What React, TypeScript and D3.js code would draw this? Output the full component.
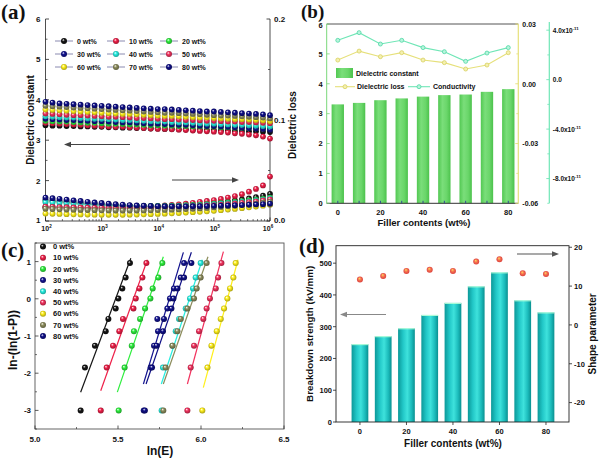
import React from "react";
import * as d3 from "d3";

const SANS = "'Liberation Sans', Arial, Helvetica, sans-serif";
const SERIF = "'Liberation Serif', 'Times New Roman', serif";

// ---------- shared ----------
const fillerLabels = ["0 wt%", "10 wt%", "20 wt%", "30 wt%", "40 wt%", "50 wt%", "60 wt%", "70 wt%", "80 wt%"];
const seriesColors = ["#151515", "#ee1f48", "#2cee3c", "#13138f", "#25eee0", "#f2325e", "#fff01a", "#8c8c5c", "#0e0e86"];
const fillers = [0, 10, 20, 30, 40, 50, 60, 70, 80];

// ---------- panel (a): frequency dependence ----------
const logFreq = [2, 2.125, 2.25, 2.375, 2.5, 2.625, 2.75, 2.875, 3, 3.125, 3.25, 3.375, 3.5, 3.625, 3.75, 3.875, 4,
  4.125, 4.25, 4.375, 4.5, 4.625, 4.75, 4.875, 5, 5.125, 5.25, 5.375, 5.5, 5.625, 5.75, 5.875, 6];

const eps0 = [3.37, 3.36, 3.36, 3.35, 3.35, 3.34, 3.34, 3.33, 3.33, 3.32, 3.32, 3.31, 3.31, 3.30, 3.30, 3.29, 3.29,
  3.28, 3.28, 3.27, 3.27, 3.26, 3.26, 3.25, 3.25, 3.24, 3.24, 3.23, 3.23, 3.22, 3.22, 3.21, 3.20];
const eps10 = [3.43, 3.42, 3.41, 3.40, 3.39, 3.38, 3.37, 3.36, 3.35, 3.34, 3.33, 3.33, 3.32, 3.31, 3.30, 3.29, 3.28,
  3.28, 3.27, 3.26, 3.25, 3.24, 3.23, 3.22, 3.21, 3.20, 3.19, 3.17, 3.16, 3.14, 3.12, 3.09, 3.04];
const eps20 = [3.48, 3.47, 3.46, 3.46, 3.45, 3.44, 3.43, 3.43, 3.42, 3.41, 3.41, 3.40, 3.39, 3.39, 3.38, 3.37, 3.37,
  3.36, 3.36, 3.35, 3.35, 3.34, 3.34, 3.33, 3.33, 3.32, 3.32, 3.31, 3.31, 3.31, 3.30, 3.30, 3.29];
const eps30 = [3.53, 3.52, 3.51, 3.50, 3.50, 3.49, 3.48, 3.47, 3.47, 3.46, 3.45, 3.44, 3.44, 3.43, 3.42, 3.41, 3.41,
  3.40, 3.39, 3.38, 3.38, 3.37, 3.36, 3.35, 3.35, 3.34, 3.33, 3.32, 3.31, 3.30, 3.29, 3.28, 3.26];
const eps40 = [3.59, 3.58, 3.57, 3.56, 3.56, 3.55, 3.54, 3.53, 3.53, 3.52, 3.51, 3.50, 3.50, 3.49, 3.48, 3.47, 3.47,
  3.46, 3.45, 3.44, 3.44, 3.43, 3.42, 3.41, 3.41, 3.40, 3.39, 3.38, 3.38, 3.37, 3.36, 3.35, 3.34];
const eps50 = [3.66, 3.65, 3.64, 3.63, 3.62, 3.62, 3.61, 3.60, 3.59, 3.58, 3.58, 3.57, 3.56, 3.55, 3.55, 3.54, 3.53,
  3.52, 3.52, 3.51, 3.50, 3.50, 3.49, 3.48, 3.48, 3.47, 3.46, 3.46, 3.45, 3.45, 3.44, 3.43, 3.42];
const eps60 = [3.76, 3.75, 3.74, 3.73, 3.72, 3.71, 3.70, 3.69, 3.68, 3.67, 3.66, 3.65, 3.65, 3.64, 3.63, 3.62, 3.61,
  3.60, 3.60, 3.59, 3.58, 3.57, 3.56, 3.56, 3.55, 3.54, 3.53, 3.52, 3.52, 3.51, 3.50, 3.49, 3.47];
const eps70 = [3.85, 3.84, 3.83, 3.82, 3.81, 3.80, 3.79, 3.78, 3.77, 3.76, 3.75, 3.74, 3.73, 3.72, 3.71, 3.70, 3.69,
  3.68, 3.68, 3.67, 3.66, 3.65, 3.64, 3.63, 3.62, 3.61, 3.61, 3.60, 3.59, 3.58, 3.57, 3.56, 3.54];
const eps80 = [3.95, 3.93, 3.91, 3.90, 3.89, 3.88, 3.87, 3.86, 3.85, 3.84, 3.83, 3.82, 3.81, 3.80, 3.79, 3.78, 3.77,
  3.77, 3.76, 3.75, 3.74, 3.73, 3.72, 3.71, 3.71, 3.70, 3.69, 3.68, 3.67, 3.66, 3.65, 3.64, 3.62];

const tan0 = [0.0134, 0.0132, 0.0130, 0.0128, 0.0126, 0.0125, 0.0124, 0.0123, 0.0122, 0.0122, 0.0122, 0.0122, 0.0123,
  0.0124, 0.0125, 0.0127, 0.0129, 0.0132, 0.0135, 0.0139, 0.0143, 0.0148, 0.0160, 0.0168, 0.0176, 0.0185, 0.0194,
  0.0203, 0.0213, 0.0224, 0.0236, 0.0250, 0.0268];
const tan10 = [0.0142, 0.0141, 0.0140, 0.0139, 0.0138, 0.0138, 0.0137, 0.0137, 0.0137, 0.0137, 0.0138, 0.0139, 0.0140,
  0.0142, 0.0144, 0.0147, 0.0150, 0.0154, 0.0159, 0.0165, 0.0172, 0.0180, 0.0190, 0.0198, 0.0207, 0.0218, 0.0232,
  0.0247, 0.0265, 0.0290, 0.0318, 0.0352, 0.0440];
const tan20 = [0.0200, 0.0195, 0.0190, 0.0185, 0.0180, 0.0175, 0.0170, 0.0166, 0.0162, 0.0159, 0.0156, 0.0153, 0.0151,
  0.0150, 0.0149, 0.0149, 0.0149, 0.0150, 0.0151, 0.0153, 0.0156, 0.0159, 0.0163, 0.0167, 0.0172, 0.0177, 0.0183,
  0.0189, 0.0196, 0.0203, 0.0211, 0.0220, 0.0232];
const tan30 = [0.0212, 0.0206, 0.0200, 0.0194, 0.0188, 0.0182, 0.0176, 0.0171, 0.0166, 0.0162, 0.0158, 0.0154, 0.0151,
  0.0148, 0.0146, 0.0144, 0.0143, 0.0142, 0.0142, 0.0142, 0.0142, 0.0143, 0.0144, 0.0145, 0.0147, 0.0149, 0.0151,
  0.0153, 0.0155, 0.0157, 0.0160, 0.0163, 0.0166];
const tan40 = [0.0186, 0.0182, 0.0178, 0.0174, 0.0170, 0.0166, 0.0163, 0.0160, 0.0157, 0.0155, 0.0153, 0.0151, 0.0149,
  0.0148, 0.0147, 0.0146, 0.0146, 0.0146, 0.0147, 0.0149, 0.0151, 0.0154, 0.0157, 0.0161, 0.0166, 0.0171, 0.0176,
  0.0182, 0.0188, 0.0195, 0.0203, 0.0212, 0.0224];
const tan50 = [0.0142, 0.0140, 0.0138, 0.0136, 0.0135, 0.0134, 0.0133, 0.0132, 0.0132, 0.0131, 0.0131, 0.0131, 0.0131,
  0.0132, 0.0133, 0.0134, 0.0135, 0.0137, 0.0139, 0.0141, 0.0144, 0.0147, 0.0150, 0.0154, 0.0158, 0.0163, 0.0168,
  0.0174, 0.0180, 0.0187, 0.0195, 0.0204, 0.0215];
const tan60 = [0.0074, 0.0072, 0.0070, 0.0068, 0.0066, 0.0065, 0.0064, 0.0063, 0.0062, 0.0062, 0.0062, 0.0062, 0.0063,
  0.0064, 0.0066, 0.0068, 0.0070, 0.0073, 0.0076, 0.0079, 0.0083, 0.0087, 0.0091, 0.0096, 0.0101, 0.0107, 0.0113,
  0.0120, 0.0127, 0.0135, 0.0143, 0.0152, 0.0162];
const tan70 = [0.0122, 0.0119, 0.0116, 0.0114, 0.0112, 0.0110, 0.0108, 0.0107, 0.0106, 0.0105, 0.0104, 0.0104, 0.0104,
  0.0104, 0.0105, 0.0106, 0.0108, 0.0110, 0.0112, 0.0115, 0.0118, 0.0121, 0.0125, 0.0129, 0.0134, 0.0139, 0.0145,
  0.0151, 0.0158, 0.0165, 0.0173, 0.0182, 0.0192];
const tan80 = [0.0232, 0.0226, 0.0220, 0.0212, 0.0205, 0.0198, 0.0190, 0.0184, 0.0178, 0.0172, 0.0167, 0.0162, 0.0158,
  0.0154, 0.0151, 0.0149, 0.0147, 0.0146, 0.0145, 0.0145, 0.0145, 0.0146, 0.0147, 0.0148, 0.0150, 0.0152, 0.0154,
  0.0156, 0.0158, 0.0161, 0.0164, 0.0167, 0.0171];

const epsSeries = [eps0, eps10, eps20, eps30, eps40, eps50, eps60, eps70, eps80];
const tanSeries = [tan0, tan10, tan20, tan30, tan40, tan50, tan60, tan70, tan80];
const aLeftTicks = [1, 2, 3, 4, 5, 6];
const aRightTicks = [0, 0.1, 0.2];
const aFreqTicks = [2, 3, 4, 5, 6];

// ---------- panel (b) ----------
const dielectricConstant = [3.31, 3.36, 3.45, 3.51, 3.57, 3.62, 3.64, 3.73, 3.82];
const dielectricLoss = [0.0119, 0.0164, 0.0136, 0.0156, 0.0119, 0.0106, 0.0074, 0.0094, 0.0156];
const conductivity = [3.18e-11, 3.8e-11, 2.88e-11, 3.18e-11, 2.59e-11, 2.26e-11, 1.48e-11, 2.15e-11, 2.59e-11];
const bLeftTicks = [0, 1, 2, 3, 4, 5, 6];
const bLossTicks = [0.03, 0.0, -0.03, -0.06];
const bLossTickLabels = ["0.03", "0.00", "-0.03", "-0.06"];
const bCondTicks = [4e-11, 0, -4e-11, -8e-11];
const bCondMant = ["4.0x10", "0.0", "-4.0x10", "-8.0x10"];
const bXTicks = [0, 20, 40, 60, 80];

// ---------- panel (c): Weibull ----------
const weibullY = [-3.0, -1.85, -1.26, -0.87, -0.54, -0.26, 0.01, 0.28, 0.57, 0.96];
const lnE0 = [5.275, 5.301, 5.361, 5.426, 5.442, 5.486, 5.502, 5.526, 5.546, 5.572];
const lnE10 = [5.396, 5.432, 5.470, 5.508, 5.530, 5.593, 5.607, 5.629, 5.647, 5.671];
const lnE20 = [5.504, 5.540, 5.583, 5.596, 5.633, 5.663, 5.695, 5.709, 5.743, 5.767];
const lnE30 = [5.655, 5.697, 5.717, 5.741, 5.737, 5.797, 5.813, 5.837, 5.878, 5.898];
const lnE40 = [5.763, 5.771, 5.828, 5.848, 5.868, 5.908, 5.934, 5.952, 5.968, 5.998];
const lnE50 = [5.918, 5.938, 5.958, 5.988, 6.014, 6.034, 6.054, 6.089, 6.103, 6.123];
const lnE60 = [6.008, 6.039, 6.063, 6.095, 6.119, 6.139, 6.159, 6.175, 6.195, 6.209];
const lnE70 = [5.773, 5.787, 5.828, 5.858, 5.878, 5.918, 5.958, 5.974, 5.998, 6.034];
const lnE80 = [5.662, 5.705, 5.733, 5.771, 5.777, 5.822, 5.834, 5.858, 5.898, 5.942];
const lnESeries = [lnE0, lnE10, lnE20, lnE30, lnE40, lnE50, lnE60, lnE70, lnE80];
// fitted lines: endpoints (lnE, y)
const fitLowE = [5.275, 5.396, 5.496, 5.653, 5.761, 5.918, 6.014, 5.773, 5.669];
const fitLowY = [-2.51, -2.47, -2.51, -2.29, -2.29, -2.29, -2.39, -2.29, -2.29];
const fitHighE = [5.577, 5.677, 5.773, 5.894, 6.008, 6.135, 6.223, 6.042, 5.942];
const fitHighY = [1.09, 1.05, 1.13, 1.25, 1.05, 1.27, 1.05, 1.13, 1.25];
const cXTicks = [5.0, 5.5, 6.0, 6.5];
const cYTicks = [-3, -2, -1, 0, 1];

// ---------- panel (d) ----------
const breakdownStrength = [245, 270, 295, 337, 375, 427, 471, 383, 345];
const shapeParameter = [11.7, 12.6, 13.9, 14.2, 13.9, 16.3, 16.9, 13.3, 13.1];
const dLeftTicks = [0, 100, 200, 300, 400, 500];
const dRightTicks = [-20, -10, 0, 10, 20];
const dXTicks = [0, 20, 40, 60, 80];

const tickFont = { fontFamily: SANS, fontWeight: 700 as const, fill: "#111" };

function Arrow({ x1, x2, y, color }: { x1: number; x2: number; y: number; color: string }) {
  const dir = x2 > x1 ? 1 : -1;
  const hl = 7, hw = 2.8;
  return (
    <g>
      <line x1={x1} y1={y} x2={x2 - dir * hl} y2={y} stroke={color} strokeWidth={1.2} />
      <path d={`M${x2},${y} L${x2 - dir * hl},${y - hw} L${x2 - dir * hl},${y + hw} Z`} fill={color} />
    </g>
  );
}

function Ball({ x, y, i, r = 2.9 }: { x: number; y: number; i: number; r?: number }) {
  return <circle cx={x} cy={y} r={r} fill={`url(#ball${i})`} />;
}

function PanelA() {
  const L = 45.5, R = 270, T = 19, B = 221;
  const x = d3.scaleLog().domain([1e2, 1e6]).range([L, R]);
  const yL = d3.scaleLinear().domain([1, 6]).range([B, T]);
  const yR = d3.scaleLinear().domain([0, 0.2]).range([B, T]);
  const minorX: number[] = [];
  for (let e = 2; e < 6; e++) for (let m = 2; m < 10; m++) minorX.push(m * Math.pow(10, e));
  const legendCols = [55, 107, 160];
  const legendRows = [41, 54, 67];
  return (
    <g>
      <line x1={L} y1={T} x2={L} y2={B} stroke="#222" strokeWidth={0.8} />
      <line x1={R} y1={T} x2={R} y2={B} stroke="#222" strokeWidth={0.8} />
      <line x1={L} y1={B} x2={R} y2={B} stroke="#222" strokeWidth={0.8} />
      {aLeftTicks.map((t) => (
        <g key={"al" + t}>
          <line x1={L} x2={L + 3.5} y1={yL(t)} y2={yL(t)} stroke="#222" strokeWidth={0.8} />
          <text x={L - 5} y={yL(t) + (t === 1 ? 1.5 : 3)} textAnchor="end" fontSize={8} {...tickFont}>{t}</text>
        </g>
      ))}
      {aLeftTicks.slice(0, -1).map((t) => (
        <line key={"alm" + t} x1={L} x2={L + 2} y1={yL(t + 0.5)} y2={yL(t + 0.5)} stroke="#222" strokeWidth={0.7} />
      ))}
      {aRightTicks.map((t) => (
        <g key={"ar" + t}>
          <line x1={R} x2={R - 3.5} y1={yR(t)} y2={yR(t)} stroke="#222" strokeWidth={0.8} />
          <text x={R + 4} y={yR(t) + (t === 0 ? 1.5 : 3)} fontSize={8} {...tickFont}>{t.toFixed(1)}</text>
        </g>
      ))}
      {[0.05, 0.15].map((t) => (
        <line key={"arm" + t} x1={R} x2={R - 2} y1={yR(t)} y2={yR(t)} stroke="#222" strokeWidth={0.7} />
      ))}
      {aFreqTicks.map((e) => (
        <g key={"af" + e}>
          <line x1={x(Math.pow(10, e))} x2={x(Math.pow(10, e))} y1={B} y2={B - 3.5} stroke="#222" strokeWidth={0.8} />
          <text x={x(Math.pow(10, e)) + (e === 6 ? -2 : 1)} y={231} textAnchor="middle" fontSize={7} {...tickFont}>
            10<tspan fontSize={4.5} dy={-3}>{e}</tspan>
          </text>
        </g>
      ))}
      {minorX.map((v) => (
        <line key={"afm" + v} x1={x(v)} x2={x(v)} y1={B} y2={B - 2} stroke="#222" strokeWidth={0.6} />
      ))}
      {epsSeries.map((s, i) => (
        <g key={"eps" + i}>
          {s.map((v, j) => <Ball key={j} x={x(Math.pow(10, logFreq[j]))} y={yL(v)} i={i} />)}
        </g>
      ))}
      {tanSeries.map((s, i) => (
        <g key={"tan" + i}>
          {s.map((v, j) => <Ball key={j} x={x(Math.pow(10, logFreq[j]))} y={yR(v)} i={i} />)}
        </g>
      ))}
      {fillerLabels.map((lab, i) => {
        const cx = legendCols[i % 3], cy = legendRows[Math.floor(i / 3)];
        return (
          <g key={"lg" + i}>
            <line x1={cx} x2={cx + 18} y1={cy} y2={cy} stroke="#8a8ab0" strokeWidth={1} />
            <Ball x={cx + 9} y={cy} i={i} r={3} />
            <text x={cx + 22} y={cy + 2.6} fontSize={7} {...tickFont}>{lab}</text>
          </g>
        );
      })}
      <Arrow x1={130} x2={64} y={144.5} color="#444" />
      <Arrow x1={172} x2={239} y={180} color="#444" />
      <text transform={`translate(34,${(T + B) / 2}) rotate(-90)`} textAnchor="middle" fontSize={10} {...tickFont}>Dielectric constant</text>
      <text transform={`translate(296,${(T + B) / 2 + 5}) rotate(-90)`} textAnchor="middle" fontSize={10} {...tickFont}>Dielectric loss</text>
      <text x={1} y={19} fontFamily={SERIF} fontWeight={700} fontSize={21} fill="#111">(a)</text>
    </g>
  );
}

function PanelB() {
  const L = 326.7, R = 518.3, T = 24, B = 203.3, CX = 549.3;
  const x = d3.scaleLinear().domain([-5.2, 84.7]).range([L, R]);
  const y = d3.scaleLinear().domain([0, 6]).range([B, T]);
  const yLoss = d3.scaleLinear().domain([-0.06, 0.03]).range([B, T]);
  const yCond = d3.scaleLinear().domain([-1e-10, 4.5e-11]).range([B, T]);
  const bw = x(5.8) - x(0);
  const lossColor = "#e6e07a", condColor = "#6fe6b6";
  const lossLine = d3.line<number>().x((_, i) => x(fillers[i])).y((v) => yLoss(v));
  const condLine = d3.line<number>().x((_, i) => x(fillers[i])).y((v) => yCond(v));
  return (
    <g>
      {dielectricConstant.map((v, i) => (
        <rect key={"bb" + i} x={x(fillers[i]) - bw / 2} y={y(v)} width={bw} height={B - y(v)} fill="url(#greenBar)" />
      ))}
      <line x1={L} y1={T} x2={R} y2={T} stroke="#555" strokeWidth={1} />
      <line x1={L} y1={T} x2={L} y2={B} stroke="#7ad87a" strokeWidth={1} />
      <line x1={L} y1={B} x2={R} y2={B} stroke="#333" strokeWidth={1} />
      <line x1={R} y1={T} x2={R} y2={B} stroke={lossColor} strokeWidth={1.2} />
      <line x1={CX} y1={T - 2} x2={CX} y2={B} stroke={condColor} strokeWidth={1.2} />
      {bLeftTicks.map((t) => (
        <g key={"bl" + t}>
          <line x1={L} x2={L + 3} y1={y(t)} y2={y(t)} stroke="#7ad87a" strokeWidth={0.8} />
          <text x={L - 4} y={y(t) + (t === 6 ? 3.8 : 2.8)} textAnchor="end" fontSize={7.5} {...tickFont}>{t}</text>
        </g>
      ))}
      {bLossTicks.map((t, k) => (
        <g key={"blo" + k}>
          <line x1={R} x2={R - 3} y1={yLoss(t)} y2={yLoss(t)} stroke={lossColor} strokeWidth={0.9} />
          <text x={R + 4} y={yLoss(t) + 2.8} fontSize={7} {...tickFont}>{bLossTickLabels[k]}</text>
        </g>
      ))}
      {[0.015, -0.015, -0.045].map((t) => (
        <line key={"blm" + t} x1={R} x2={R - 2} y1={yLoss(t)} y2={yLoss(t)} stroke={lossColor} strokeWidth={0.8} />
      ))}
      {bCondTicks.map((t, k) => (
        <g key={"bc" + k}>
          <line x1={CX} x2={CX - 3} y1={yCond(t)} y2={yCond(t)} stroke={condColor} strokeWidth={0.9} />
          <text x={CX + 3.5} y={yCond(t) + 2.8} fontSize={6.5} {...tickFont}>
            {bCondMant[k]}
            {t !== 0 ? <tspan fontSize={4.3} dy={-3}>-11</tspan> : null}
          </text>
        </g>
      ))}
      {[2e-11, -2e-11, -6e-11, -1e-10].map((t) => (
        <line key={"bcm" + t} x1={CX} x2={CX - 2} y1={yCond(t)} y2={yCond(t)} stroke={condColor} strokeWidth={0.8} />
      ))}
      {fillers.map((f) => (
        <line key={"bxt" + f} x1={x(f)} x2={x(f)} y1={B} y2={B - 2.5} stroke="#2a3a9a" strokeWidth={0.9} />
      ))}
      {bXTicks.map((t) => (
        <text key={"bx" + t} x={x(t)} y={215} textAnchor="middle" fontSize={7.5} {...tickFont}>{t}</text>
      ))}
      <path d={lossLine(dielectricLoss) || ""} fill="none" stroke={lossColor} strokeWidth={1.1} />
      <path d={condLine(conductivity) || ""} fill="none" stroke={condColor} strokeWidth={1.1} />
      {dielectricLoss.map((v, i) => (
        <circle key={"lp" + i} cx={x(fillers[i])} cy={yLoss(v)} r={2} fill="#f4f0b0" stroke="#d8d060" strokeWidth={0.8} />
      ))}
      {conductivity.map((v, i) => (
        <circle key={"cp" + i} cx={x(fillers[i])} cy={yCond(v)} r={2} fill="#b8f4dc" stroke="#4ed8a4" strokeWidth={0.8} />
      ))}
      {/* legend */}
      <rect x={336} y={68} width={17} height={10} fill="url(#greenBar)" />
      <text x={356} y={75.8} fontSize={7} {...tickFont}>Dielectric constant</text>
      <line x1={335} x2={355} y1={86.7} y2={86.7} stroke={lossColor} strokeWidth={1.1} />
      <circle cx={345} cy={86.7} r={2} fill="#f4f0b0" stroke="#d8d060" strokeWidth={0.8} />
      <text x={357} y={89.3} fontSize={7} {...tickFont}>Dielectric loss</text>
      <line x1={408} x2={430} y1={86.7} y2={86.7} stroke={condColor} strokeWidth={1.1} />
      <circle cx={419} cy={86.7} r={2} fill="#b8f4dc" stroke="#4ed8a4" strokeWidth={0.8} />
      <text x={433} y={89.3} fontSize={7} {...tickFont}>Conductivity</text>
      <text x={424} y={226} textAnchor="middle" fontSize={9.5} {...tickFont}>Filler contents (wt%)</text>
      <text x={301} y={17.5} fontFamily={SERIF} fontWeight={700} fontSize={19} fill="#111">(b)</text>
    </g>
  );
}

function PanelC() {
  const L = 35, R = 284, T = 243, B = 429;
  const x = d3.scaleLinear().domain([5.0, 6.5]).range([L, R]);
  const y = d3.scaleLinear().domain([-3.5, 1.5]).range([B, T]);
  const minorX = [5.25, 5.75, 6.25];
  const minorY = [-3.5, -2.5, -1.5, -0.5, 0.5, 1.5];
  return (
    <g>
      <rect x={L} y={T} width={R - L} height={B - T} fill="none" stroke="#555" strokeWidth={0.9} />
      {cXTicks.map((t) => (
        <g key={"cx" + t}>
          <line x1={x(t)} x2={x(t)} y1={B} y2={B - 3.5} stroke="#333" strokeWidth={0.8} />
          <text x={x(t)} y={441.5} textAnchor="middle" fontSize={8} {...tickFont}>{t.toFixed(1)}</text>
        </g>
      ))}
      {minorX.map((t) => (
        <line key={"cxm" + t} x1={x(t)} x2={x(t)} y1={B} y2={B - 2} stroke="#333" strokeWidth={0.7} />
      ))}
      {cYTicks.map((t) => (
        <g key={"cy" + t}>
          <line x1={L} x2={L + 3.5} y1={y(t)} y2={y(t)} stroke="#333" strokeWidth={0.8} />
          <text x={L - 4} y={y(t) + 3} textAnchor="end" fontSize={8} {...tickFont}>{t}</text>
        </g>
      ))}
      {minorY.map((t) => (
        <line key={"cym" + t} x1={L} x2={L + 2} y1={y(t)} y2={y(t)} stroke="#333" strokeWidth={0.7} />
      ))}
      {fitLowE.map((_, i) => (
        <line key={"fit" + i} x1={x(fitLowE[i])} y1={y(fitLowY[i])} x2={x(fitHighE[i])} y2={y(fitHighY[i])}
          stroke={seriesColors[i]} strokeWidth={1.2} />
      ))}
      {lnESeries.map((s, i) => (
        <g key={"ws" + i}>
          {s.map((v, j) => <Ball key={j} x={x(v)} y={y(weibullY[j])} i={i} r={3} />)}
        </g>
      ))}
      {fillerLabels.map((lab, i) => (
        <g key={"cl" + i}>
          <Ball x={43} y={246.5 + i * 11.2} i={i} r={3} />
          <text x={53} y={246.5 + i * 11.2 + 2.6} fontSize={7.5} {...tickFont}>{lab}</text>
        </g>
      ))}
      <text x={160} y={455} textAnchor="middle" fontSize={12} {...tickFont}>ln(E)</text>
      <text transform={`translate(17,340) rotate(-90)`} textAnchor="middle" fontSize={12} {...tickFont}>ln-(ln(1-P))</text>
      <text x={1} y={257} fontFamily={SERIF} fontWeight={700} fontSize={21} fill="#111">(c)</text>
    </g>
  );
}

function PanelD() {
  const L = 336, R = 569, T = 245.7, B = 422;
  const x = d3.scaleLinear().domain([-10.3, 89.9]).range([L, R]);
  const y = d3.scaleLinear().domain([0, 555]).range([B, T]);
  const yR = d3.scaleLinear().domain([-25, 20.4]).range([B, T]);
  const bw = x(7.2) - x(0);
  return (
    <g>
      {breakdownStrength.map((v, i) => (
        <g key={"db" + i}>
          <rect x={x(fillers[i]) - bw / 2} y={y(v)} width={bw} height={B - y(v)} fill="url(#tealBar)" />
          <line x1={x(fillers[i]) - bw / 2} x2={x(fillers[i]) + bw / 2} y1={y(v) + 0.5} y2={y(v) + 0.5} stroke="#b8ffd8" strokeWidth={1} />
        </g>
      ))}
      <rect x={L} y={T} width={R - L} height={B - T} fill="none" stroke="#222" strokeWidth={0.9} />
      {dLeftTicks.map((t) => (
        <g key={"dl" + t}>
          <line x1={L} x2={L - 3} y1={y(t)} y2={y(t)} stroke="#222" strokeWidth={0.8} />
          <text x={L - 4} y={y(t) + 2.8} textAnchor="end" fontSize={7.5} {...tickFont}>{t}</text>
        </g>
      ))}
      {dRightTicks.map((t) => (
        <g key={"dr" + t}>
          <line x1={R} x2={R + 3} y1={yR(t)} y2={yR(t)} stroke="#222" strokeWidth={0.8} />
          <text x={R + 5} y={yR(t) + 2.8} fontSize={7.5} {...tickFont}>{t}</text>
        </g>
      ))}
      {dXTicks.map((t) => (
        <g key={"dx" + t}>
          <line x1={x(t)} x2={x(t)} y1={B} y2={B + 3} stroke="#222" strokeWidth={0.8} />
          <text x={x(t)} y={434} textAnchor="middle" fontSize={7.5} {...tickFont}>{t}</text>
        </g>
      ))}
      {shapeParameter.map((v, i) => (
        <circle key={"sp" + i} cx={x(fillers[i])} cy={yR(v)} r={3} fill="url(#orangeBall)" />
      ))}
      <Arrow x1={517} x2={559} y={254} color="#555" />
      <Arrow x1={386} x2={340} y={314.5} color="#888" />
      <text x={453} y={447} textAnchor="middle" fontSize={10} {...tickFont}>Filler contents (wt%)</text>
      <text transform={`translate(313,${(T + B) / 2}) rotate(-90)`} textAnchor="middle" fontSize={9.8} {...tickFont}>Breakdown strength (kV/mm)</text>
      <text transform={`translate(596,${(T + B) / 2}) rotate(-90)`} textAnchor="middle" fontSize={10} {...tickFont}>Shape parameter</text>
      <text x={299} y={253} fontFamily={SERIF} fontWeight={700} fontSize={21} fill="#111">(d)</text>
    </g>
  );
}

export default function App() {
  return (
    <div style={{ position: "absolute", left: 0, top: 0, width: 602, height: 461, background: "#fff" }}>
      <svg width={602} height={461} viewBox="0 0 602 461" style={{ display: "block" }}>
        <defs>
          {seriesColors.map((c, i) => {
            const dk = (d3.color(c) as d3.RGBColor).darker(1.3).formatHex();
            return (
              <radialGradient key={i} id={`ball${i}`} cx="50%" cy="50%" r="55%" fx="35%" fy="30%">
                <stop offset="0" stopColor="#ffffff" />
                <stop offset="0.4" stopColor={c} />
                <stop offset="1" stopColor={dk} />
              </radialGradient>
            );
          })}
          <radialGradient id="orangeBall" cx="50%" cy="50%" r="55%" fx="40%" fy="30%">
            <stop offset="0" stopColor="#ffe060" />
            <stop offset="0.45" stopColor="#f47050" />
            <stop offset="1" stopColor="#d83a3a" />
          </radialGradient>
          <linearGradient id="greenBar" x1="0" x2="1" y1="0" y2="0">
            <stop offset="0" stopColor="#52c852" />
            <stop offset="0.35" stopColor="#7ade7a" />
            <stop offset="0.7" stopColor="#6ad66a" />
            <stop offset="1" stopColor="#4cc24c" />
          </linearGradient>
          <linearGradient id="tealBar" x1="0" x2="1" y1="0" y2="0">
            <stop offset="0" stopColor="#0c9898" />
            <stop offset="0.3" stopColor="#22c8c8" />
            <stop offset="0.55" stopColor="#3ee2dc" />
            <stop offset="0.8" stopColor="#1cbcbc" />
            <stop offset="1" stopColor="#0a9090" />
          </linearGradient>
        </defs>
        <rect width={602} height={461} fill="#fff" />
        <PanelA />
        <PanelB />
        <PanelC />
        <PanelD />
      </svg>
    </div>
  );
}
